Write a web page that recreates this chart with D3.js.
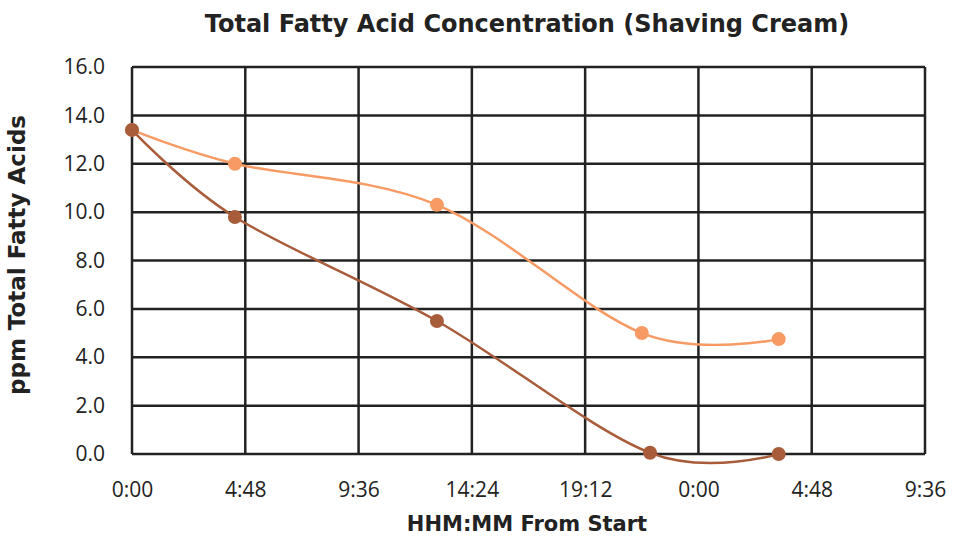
<!DOCTYPE html>
<html>
<head>
<meta charset="utf-8">
<script src="https://cdn.jsdelivr.net/npm/d3@7"></script>
<style>
  body { margin: 0; background: #fff; }
  text { font-family: "DejaVu Sans", sans-serif; fill: #222; }
  .tick text { font-family: "Open Sans", sans-serif; }
</style>
</head>
<body>
<svg id="chart" width="964" height="536"></svg>
<script>
// hours from start
const hoursA = [0, 4.36, 12.92, 21.6, 27.4]
const valuesA = [13.4, 12.0, 10.3, 5.0, 4.75]
const hoursB = [0, 4.36, 12.92, 21.95, 27.4]
const valuesB = [13.4, 9.8, 5.5, 0.05, 0.0]
const xTicks = [0, 4.8, 9.6, 14.4, 19.2, 24, 28.8, 33.6]
const yTicks = [0, 2, 4, 6, 8, 10, 12, 14, 16]

const margin = { top: 67, left: 132, right: 39, bottom: 82 }
const size = { width: 964 - margin.left - margin.right, height: 536 - margin.top - margin.bottom }

const svg = d3.select('#chart')
const g = svg.append('g').attr('transform', `translate(${margin.left},${margin.top})`)

const x = d3.scaleLinear().domain([0, 33.6]).range([0, size.width])
const y = d3.scaleLinear().domain([0, 16]).range([size.height, 0])

const fmtTime = (h) => {
  const mins = Math.round(h * 60) % (24 * 60)
  return Math.floor(mins / 60) + ':' + String(mins % 60).padStart(2, '0')
}

// grid
g.append('g')
  .selectAll('line')
  .data(yTicks)
  .join('line')
  .attr('x1', 0).attr('x2', size.width)
  .attr('y1', (d) => y(d)).attr('y2', (d) => y(d))
  .style('stroke', '#222').style('stroke-width', 2.5)

g.append('g')
  .selectAll('line')
  .data(xTicks)
  .join('line')
  .attr('y1', 0).attr('y2', size.height)
  .attr('x1', (d) => x(d)).attr('x2', (d) => x(d))
  .style('stroke', '#222').style('stroke-width', 2.5)

// axes (labels only)
const xAxis = g.append('g')
  .attr('transform', `translate(0,${size.height})`)
  .call(d3.axisBottom(x).tickValues(xTicks).tickFormat(fmtTime).tickSize(0).tickPadding(28))
xAxis.select('.domain').remove()
xAxis.selectAll('text').style('font-size', '21px').attr('fill', '#333')

const yAxis = g.append('g')
  .call(d3.axisLeft(y).tickValues(yTicks).tickFormat(d3.format('.1f')).tickSize(0).tickPadding(27))
yAxis.select('.domain').remove()
yAxis.selectAll('text').style('font-size', '21px').attr('fill', '#333')

// lines
const line = d3.line().curve(d3.curveCardinal.tension(0))
const series = [
  { xs: hoursA, ys: valuesA, color: '#F79A64' },
  { xs: hoursB, ys: valuesB, color: '#A85C3A' }
]

series.forEach((s) => {
  const pts = s.xs.map((h, i) => [x(h), y(s.ys[i])])
  g.append('path')
    .attr('d', line(pts))
    .style('fill', 'none')
    .style('stroke', s.color)
    .style('stroke-width', 2.5)
  g.append('g')
    .selectAll('circle')
    .data(pts)
    .join('circle')
    .attr('cx', (d) => d[0])
    .attr('cy', (d) => d[1])
    .attr('r', 7)
    .style('fill', s.color)
})

// titles
svg.append('text')
  .attr('x', 527).attr('y', 32)
  .attr('text-anchor', 'middle')
  .style('font-size', '24px').style('font-weight', 'bold')
  .text('Total Fatty Acid Concentration (Shaving Cream)')

svg.append('text')
  .attr('x', 527).attr('y', 531)
  .attr('text-anchor', 'middle')
  .style('font-size', '21px').style('font-weight', 'bold')
  .text('HHM:MM From Start')

svg.append('text')
  .attr('transform', 'translate(25,255) rotate(-90)')
  .attr('text-anchor', 'middle')
  .style('font-size', '23px').style('font-weight', 'bold')
  .text('ppm Total Fatty Acids')
</script>
</body>
</html>
